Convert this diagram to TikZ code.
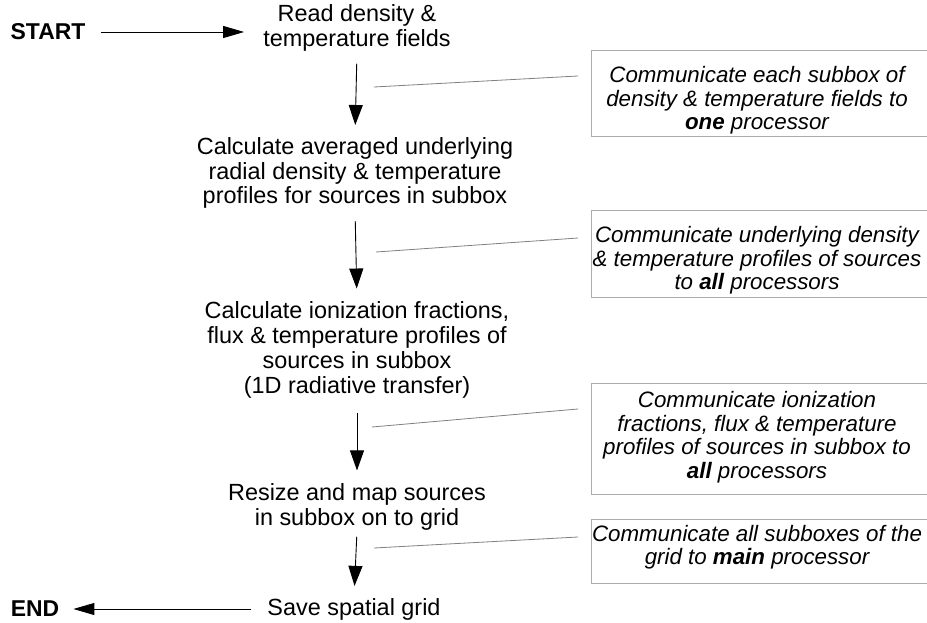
\documentclass[tikz,border=0pt]{standalone}
\usepackage{fontspec}
\setmainfont{Liberation Sans}
\usetikzlibrary{arrows.meta}
\begin{document}
\begin{tikzpicture}[x=1bp,y=-1bp,
  mainstep/.style={align=center, font=\fontsize{23.5}{25}\selectfont, inner sep=0pt},
  notetext/.style={align=center, font=\fontsize{22.4}{23.6}\selectfont\itshape, inner sep=0pt},
  notebox/.style={draw=gray!65, line width=0.8bp, minimum width=349bp, inner sep=0pt, anchor=north west},
  term/.style={font=\fontsize{23}{24}\selectfont\bfseries, inner sep=0pt},
  flow/.style={draw=black, line width=0.9bp, -{Triangle[length=20bp,width=14bp]}},
  hflow/.style={draw=black, line width=0.9bp, -{Triangle[length=21bp,width=12bp]}},
  link/.style={draw=gray, line width=0.8bp}
]
\useasboundingbox (0,0) rectangle (927,623);
\clip (0,0) rectangle (927,623);

% main flow
\node[term] (start) at (48,32) {START};
\node[mainstep] (read) at (357,28) {Read density \&\\temperature fields};
\node[mainstep] (calc1) at (355,173) {Calculate averaged underlying\\radial density \& temperature\\profiles for sources in subbox};
\node[mainstep] (calc2) at (357,350) {Calculate ionization fractions,\\flux \& temperature profiles of\\sources in subbox\\(1D radiative transfer)};
\node[mainstep] (resize) at (357,507) {Resize and map sources\\in subbox on to grid};
\node[mainstep] (save) at (354,609) {Save spatial grid};
\node[term] (end) at (35,609) {END};

% note boxes
\node[notebox, minimum height=86bp] (b1) at (591,50) {};
\node[notebox, minimum height=87bp] (b2) at (591,210) {};
\node[notebox, minimum height=111bp] (b3) at (591,383) {};
\node[notebox, minimum height=64bp] (b4) at (591,519) {};

\node[notetext] (t1) at (757,100.5) {Communicate each subbox of\\density \& temperature fields to\\\textbf{one} processor};
\node[notetext] (t2) at (757,260.5) {Communicate underlying density\\\& temperature profiles of sources\\to \textbf{all} processors};
\node[notetext] (t3) at (757,437) {Communicate ionization\\fractions, flux \& temperature\\profiles of sources in subbox to\\\textbf{all} processors};
\node[notetext] (t4) at (757,547) {Communicate all subboxes of the\\grid to \textbf{main} processor};

% arrows
\draw[hflow, shorten <=15.5bp, shorten >=19bp] (start.east) -- (read.west |- start.east);
\draw[flow, shorten <=12bp, shorten >=12bp] (read.south) -- (calc1.north);
\draw[flow, shorten <=12bp, shorten >=13bp] (calc1.south) -- (calc2.north);
\draw[flow, shorten <=15bp, shorten >=13bp] (calc2.south) -- (resize.north);
\draw[flow, shorten <=6bp, shorten >=12bp] (resize.south) -- (save.north);
\draw[hflow, shorten <=16bp, shorten >=14bp] (save.west) -- (end.east);

% connector lines to notes
\coordinate (g1) at (374,87);
\coordinate (g2) at (376,252);
\coordinate (g3) at (372,427);
\coordinate (g4) at (374,548);
\draw[link] (g1) -- ([shift={(-13,26)}]b1.north west);
\draw[link] (g2) -- ([shift={(-13,28)}]b2.north west);
\draw[link] (g3) -- ([shift={(-13,26)}]b3.north west);
\draw[link] (g4) -- ([shift={(-13,18)}]b4.north west);
\end{tikzpicture}
\end{document}
